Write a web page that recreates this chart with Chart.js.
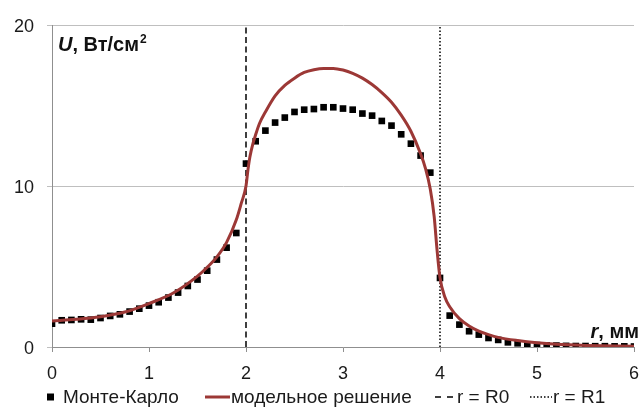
<!DOCTYPE html>
<html lang="ru">
<head>
<meta charset="UTF-8">
<title>Монте-Карло и модельное решение</title>
<script src="https://cdn.jsdelivr.net/npm/chart.js"></script>
<style>
    body { margin: 0; background: #fff; }
</style>
</head>
<body>
<canvas id="chart" width="640" height="407"></canvas>
<script>
// Монте-Карло (точки)
const mcR = [0.0, 0.1, 0.2, 0.3, 0.4, 0.5, 0.6, 0.7, 0.8, 0.9,
             1.0, 1.1, 1.2, 1.3, 1.4, 1.5, 1.6, 1.7, 1.8, 1.9,
             2.0, 2.1, 2.2, 2.3, 2.4, 2.5, 2.6, 2.7, 2.8, 2.9,
             3.0, 3.1, 3.2, 3.3, 3.4, 3.5, 3.6, 3.7, 3.8, 3.9,
             4.0, 4.1, 4.2, 4.3, 4.4, 4.5, 4.6, 4.7, 4.8, 4.9,
             5.0, 5.1, 5.2, 5.3, 5.4, 5.5, 5.6, 5.7, 5.8, 5.9, 6.0];
const mcU = [1.45, 1.66, 1.68, 1.72, 1.70, 1.80, 1.93, 2.03, 2.20, 2.38,
             2.57, 2.78, 3.07, 3.38, 3.79, 4.19, 4.74, 5.43, 6.17, 7.08,
             11.39, 12.78, 13.44, 13.94, 14.25, 14.60, 14.74, 14.78, 14.89, 14.89,
             14.81, 14.74, 14.50, 14.37, 14.04, 13.75, 13.21, 12.63, 11.89, 10.83,
             4.29, 1.95, 1.39, 0.98, 0.77, 0.56, 0.44, 0.29, 0.23, 0.15,
             0.12, 0.10, 0.09, 0.07, 0.06, 0.06, 0.05, 0.05, 0.04, 0.04, 0.03];

// модельное решение (линия)
const modelR = [0, 0.25, 0.5, 0.75, 1.0, 1.25, 1.5, 1.6, 1.7, 1.8, 1.9, 1.95,
                2.0, 2.02, 2.04, 2.07, 2.1, 2.14, 2.2, 2.3, 2.4, 2.5, 2.6, 2.7, 2.8, 2.9,
                3.0, 3.1, 3.2, 3.3, 3.4, 3.5, 3.6, 3.7, 3.8, 3.85, 3.9, 3.94, 3.97,
                4.0, 4.05, 4.1, 4.2, 4.3, 4.4, 4.5, 4.6, 4.8, 5.0, 5.2, 5.5, 6.0];
const modelU = [1.62, 1.72, 1.88, 2.17, 2.70, 3.35, 4.40, 4.95, 5.60, 6.50, 7.90, 8.90,
                10.0, 11.0, 11.8, 12.6, 13.2, 13.9, 14.6, 15.6, 16.25, 16.7, 17.05, 17.22, 17.3, 17.3,
                17.2, 17.0, 16.7, 16.3, 15.8, 15.2, 14.4, 13.4, 12.0, 11.1, 9.8, 8.1, 6.0,
                4.3, 3.1, 2.5, 1.76, 1.3, 0.98, 0.77, 0.6, 0.4, 0.26, 0.17, 0.1, 0.04];

// вертикальные линии r = R0, r = R1
const lineR0 = [2, 2];
const lineR1 = [4, 4];
const lineSpan = [0, 20];

const xTicks = [0, 1, 2, 3, 4, 5, 6];
const yTicks = [0, 10, 20];

const FONT = '"Liberation Sans", Arial, sans-serif';

function pts(xs, ys) {
    return xs.map((x, i) => ({ x: x, y: ys[i] }));
}

// подписи осей и легенда
const extras = {
    id: 'extras',
    afterDraw(chart) {
        const ctx = chart.ctx;
        ctx.save();
        ctx.fillStyle = '#111';
        ctx.textBaseline = 'alphabetic';
        ctx.textAlign = 'left';

        // U, Вт/см2
        let x = 58, y = 51;
        ctx.font = 'italic bold 20px ' + FONT;
        ctx.fillText('U', x, y);
        x += ctx.measureText('U').width;
        ctx.font = 'bold 20px ' + FONT;
        ctx.fillText(', Вт/см', x, y);
        x += ctx.measureText(', Вт/см').width;
        ctx.font = 'bold 12px ' + FONT;
        ctx.fillText('2', x + 1, y - 8);

        // r, мм
        ctx.font = 'bold 20px ' + FONT;
        const tail = ', мм';
        const wTail = ctx.measureText(tail).width;
        ctx.font = 'italic bold 20px ' + FONT;
        const wR = ctx.measureText('r').width;
        x = 639 - wTail - wR;
        y = 338;
        ctx.fillText('r', x, y);
        ctx.font = 'bold 20px ' + FONT;
        ctx.fillText(tail, x + wR, y);

        // легенда
        const slots = [
            { x: 47, w: 7, tx: 63 },
            { x: 205, w: 25, tx: 231 },
            { x: 435, w: 18, tx: 457 },
            { x: 530, w: 22, tx: 553 }
        ];
        const ly = 397;
        ctx.font = '19px ' + FONT;
        ctx.textBaseline = 'middle';
        chart.data.datasets.forEach((ds, i) => {
            const s = slots[i];
            if (ds.showLine === false) {
                ctx.fillStyle = ds.backgroundColor;
                ctx.fillRect(s.x, ly - 3.5, s.w, s.w);
            } else {
                ctx.beginPath();
                ctx.strokeStyle = ds.borderColor;
                ctx.lineWidth = ds.borderWidth;
                ctx.setLineDash(ds.legendDash || []);
                ctx.moveTo(s.x, ly);
                ctx.lineTo(s.x + s.w, ly);
                ctx.stroke();
                ctx.setLineDash([]);
            }
            ctx.fillStyle = '#1a1a1a';
            ctx.fillText(ds.label, s.tx, ly + 1);
        });
        ctx.restore();
    }
};

new Chart(document.getElementById('chart'), {
    type: 'line',
    data: {
        datasets: [
            {
                label: 'Монте-Карло',
                data: pts(mcR, mcU),
                showLine: false,
                pointStyle: 'rect',
                pointRadius: 4.7,
                pointBorderWidth: 0,
                backgroundColor: '#000',
                borderColor: '#000',
                order: 1
            },
            {
                label: 'модельное решение',
                data: pts(modelR, modelU),
                borderColor: '#9c3836',
                borderWidth: 3,
                pointRadius: 0,
                cubicInterpolationMode: 'monotone',
                order: 0
            },
            {
                label: 'r = R0',
                data: pts(lineR0, lineSpan),
                borderColor: '#000',
                borderWidth: 1.5,
                borderDash: [6, 3.5],
                legendDash: [6, 6],
                pointRadius: 0,
                order: 2
            },
            {
                label: 'r = R1',
                data: pts(lineR1, lineSpan),
                borderColor: '#000',
                borderWidth: 1.5,
                borderDash: [1.5, 2],
                legendDash: [1.5, 2],
                pointRadius: 0,
                order: 2
            }
        ]
    },
    options: {
        responsive: false,
        animation: false,
        layout: { padding: { top: 25, right: 6, left: 0, bottom: 0 } },
        plugins: {
            legend: { display: false },
            tooltip: { enabled: false }
        },
        scales: {
            x: {
                type: 'linear',
                min: 0,
                max: 6,
                afterBuildTicks: s => { s.ticks = xTicks.map(v => ({ value: v })); },
                afterFit: s => { s.height = 60; s.paddingLeft = 0; s.paddingRight = 0; },
                ticks: {
                    font: { family: FONT, size: 18 },
                    color: '#1a1a1a',
                    padding: 11,
                    maxRotation: 0
                },
                grid: {
                    drawOnChartArea: false,
                    tickLength: 5,
                    color: '#8f8f8f'
                },
                border: { color: '#8f8f8f', width: 1 }
            },
            y: {
                type: 'linear',
                min: 0,
                max: 20,
                afterBuildTicks: s => { s.ticks = yTicks.map(v => ({ value: v })); },
                afterFit: s => { s.width = 52; s.paddingTop = 0; s.paddingBottom = 0; },
                ticks: {
                    font: { family: FONT, size: 18 },
                    color: '#1a1a1a',
                    padding: 13,
                    labelOffset: 2
                },
                grid: {
                    color: '#bfbfbf',
                    tickLength: 5
                },
                border: { color: '#8f8f8f', width: 1 }
            }
        }
    },
    plugins: [extras]
});
</script>
</body>
</html>
